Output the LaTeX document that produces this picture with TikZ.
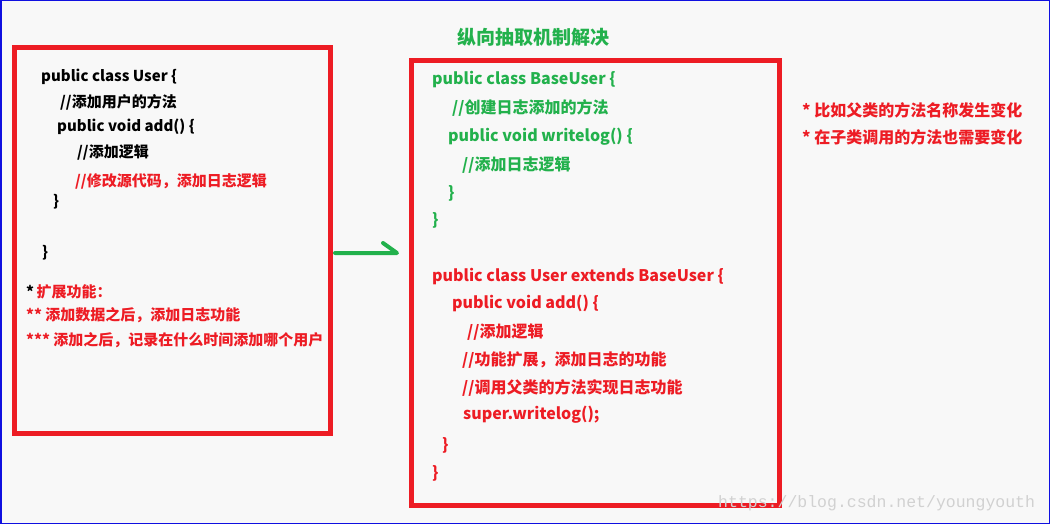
\documentclass[tikz,border=0pt]{standalone}
\usepackage{fontspec}
\setmainfont{Noto Sans CJK SC}
\newfontfamily\wmfont{Liberation Mono}
\definecolor{pred}{HTML}{ED1C24}
\definecolor{pgreen}{HTML}{22B14C}
\definecolor{pbg}{HTML}{F8F8F8}
\definecolor{pblue}{HTML}{1010E0}
\tikzset{
  code/.style={anchor=west, inner sep=0pt, font=\bfseries\fontsize{15}{18}\selectfont},
  codeR/.style={anchor=west, inner sep=0pt, font=\bfseries\fontsize{16}{19}\selectfont},
  frame/.style={draw=pred, line width=5pt},
  garrow/.style={draw=pgreen, line width=4pt, line cap=round, line join=round},
}
\begin{document}
\begin{tikzpicture}[x=1pt, y=-1pt]
\useasboundingbox (0,0) rectangle (1050,524);
\fill[pbg] (0,0) rectangle (1050,524);
\draw[pblue, line width=1.5pt] (0.75,0.75) rectangle (1049.25,523.25);

% left box
\draw[frame] (14.5,47.5) rectangle (330.5,433.5);
\node[code] (l1) at (41,77) {public class User \{};
\node[code] (l2) at (60,102) {//添加用户的方法};
\node[code] (l3) at (57,127) {public void add() \{};
\node[code] (l4) at (77,152) {//添加逻辑};
\node[code, text=pred] (l5) at (75,181) {//修改源代码，添加日志逻辑};
\node[code] (l6) at (53,202) {\}};
\node[code] (l7) at (42,253) {\}};
\node[code] (l8) at (26,292) {*\,\textcolor{pred}{扩展功能：}};
\node[code, text=pred] (l9) at (26,315) {** 添加数据之后，添加日志功能};
\node[code, text=pred] (l10) at (26,340) {*** 添加之后，记录在什么时间添加哪个用户};

% arrow
\coordinate (a1) at (335,253);
\coordinate (a2) at (397,253);
\coordinate (a3) at (383,243);
\draw[garrow] (a1) -- (a2) -- (a3);

% title
\node[anchor=west, inner sep=0pt, text=pgreen, font=\bfseries\fontsize{19}{22}\selectfont] (title) at (457,37) {纵向抽取机制解决};

% right box
\draw[frame] (411.5,61) rectangle (779,505);
\node[codeR, text=pgreen] (r1) at (432,80) {public class BaseUser \{};
\node[codeR, text=pgreen] (r2) at (452,108) {//创建日志添加的方法};
\node[codeR, text=pgreen] (r3) at (448,137) {public void writelog() \{};
\node[codeR, text=pgreen] (r4) at (462,165) {//添加日志逻辑};
\node[codeR, text=pgreen] (r5) at (448,193) {\}};
\node[codeR, text=pgreen] (r6) at (432,220) {\}};
\node[codeR, text=pred] (r7) at (432,277) {public class User extends BaseUser \{};
\node[codeR, text=pred] (r8) at (452,303) {public void add() \{};
\node[codeR, text=pred] (r9) at (467,332) {//添加逻辑};
\node[codeR, text=pred] (r10) at (462,360) {//功能扩展，添加日志的功能};
\node[codeR, text=pred] (r11) at (462,388) {//调用父类的方法实现日志功能};
\node[codeR, text=pred] (r12) at (463,415) {super.writelog();};
\node[codeR, text=pred] (r13) at (442,445) {\}};
\node[codeR, text=pred] (r14) at (432,473) {\}};

% notes
\node[codeR, text=pred] (n1) at (802,110) {* 比如父类的方法名称发生变化};
\node[codeR, text=pred] (n2) at (802,137) {* 在子类调用的方法也需要变化};

% watermark
\node[anchor=west, inner sep=0pt, text=black!18, font=\wmfont\fontsize{16.5}{18}\selectfont] (wm) at (718,503) {https://blog.csdn.net/youngyouth};
\end{tikzpicture}
\end{document}
